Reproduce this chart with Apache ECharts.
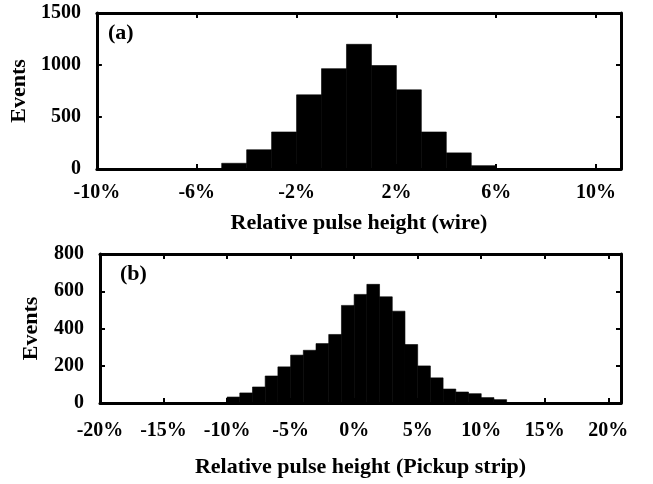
<!DOCTYPE html>
<html>
<head>
<meta charset="utf-8">
<script src="https://cdn.jsdelivr.net/npm/echarts@6/dist/echarts.min.js"></script>
<style>
  html, body { margin: 0; padding: 0; background: #fff; }
  #chart { width: 653px; height: 484px; }
</style>
</head>
<body>
<div id="chart"></div>
<script>
// (a) wire: bins of 1 %, left edges
var wireBins = [-5, -4, -3, -2, -1, 0, 1, 2, 3, 4, 5];
var wireCounts = [55, 185, 356, 713, 965, 1199, 995, 761, 356, 155, 32];
var wireTicks = [-10, -6, -2, 2, 6, 10];

// (b) pickup strip: bins of 1 %, left edges
var stripBins = [-10, -9, -8, -7, -6, -5, -4, -3, -2, -1, 0, 1, 2, 3, 4, 5, 6, 7, 8, 9, 10, 11];
var stripCounts = [32, 54, 86, 145, 194, 257, 283, 319, 368, 524, 583, 637, 570, 493, 314, 199, 135, 75, 59, 50, 29, 18];
var stripTicks = [-20, -15, -10, -5, 0, 5, 10, 15, 20];

var binWidth = 1;
var font = 'Liberation Serif';

function toData(bins, counts) {
	return bins.map(function (lo, i) {
		return [lo, lo + binWidth, counts[i]];
	});
}

function renderBar(params, api) {
	var p0 = api.coord([api.value(0), 0]);
	var p1 = api.coord([api.value(1), api.value(2)]);
	return {
		type: 'rect',
		shape: { x: p0[0], y: p1[1], width: p1[0] - p0[0], height: p0[1] - p1[1] },
		style: { fill: '#000', stroke: '#000', lineWidth: 0.6 }
	};
}

var lineStyle = { color: '#000', width: 3 };
var tickStyle = { show: true, inside: true, length: 5, lineStyle: { color: '#000', width: 2 } };
var labelStyle = { color: '#000', fontFamily: font, fontWeight: 'bold', fontSize: 20 };
var nameStyle = { color: '#000', fontFamily: font, fontWeight: 'bold', fontSize: 22 };

function xAxes(grid, min, max, ticks, name, gap, margin) {
	return [{
		type: 'value', gridIndex: grid, min: min, max: max, position: 'bottom',
		name: name, nameLocation: 'middle', nameGap: gap, nameTextStyle: nameStyle,
		axisLine: { onZero: false, lineStyle: lineStyle },
		axisTick: Object.assign({ customValues: ticks }, tickStyle),
		axisLabel: Object.assign({ customValues: ticks, margin: margin, formatter: function (v) { return v + '%'; } }, labelStyle),
		splitLine: { show: false }
	}, {
		type: 'value', gridIndex: grid, min: min, max: max, position: 'top',
		axisLine: { onZero: false, lineStyle: lineStyle },
		axisTick: Object.assign({ customValues: ticks }, tickStyle),
		axisLabel: { show: false },
		splitLine: { show: false }
	}];
}

function yAxes(grid, max, interval, gap) {
	return [{
		type: 'value', gridIndex: grid, min: 0, max: max, interval: interval, position: 'left',
		name: 'Events', nameLocation: 'middle', nameGap: gap, nameTextStyle: nameStyle,
		axisLine: { show: true, onZero: false, lineStyle: lineStyle },
		axisTick: tickStyle,
		axisLabel: Object.assign({ margin: 16, formatter: function (v) { return String(v); } }, labelStyle),
		splitLine: { show: false }
	}, {
		type: 'value', gridIndex: grid, min: 0, max: max, interval: interval, position: 'right',
		axisLine: { show: true, onZero: false, lineStyle: lineStyle },
		axisTick: tickStyle,
		axisLabel: { show: false },
		splitLine: { show: false }
	}];
}

var myChart = echarts.init(document.getElementById('chart'));

var option = {
	backgroundColor: '#fff',
	animation: false,
	grid: [
		{ left: 96, right: 32, top: 13, height: 156 },
		{ left: 100, right: 32, top: 254, height: 149 }
	],
	xAxis: xAxes(0, -10, 11, wireTicks, 'Relative pulse height (wire)', 43, 14)
		.concat(xAxes(1, -20, 21, stripTicks, 'Relative pulse height (Pickup strip)', 53, 18)),
	yAxis: yAxes(0, 1500, 500, 62).concat(yAxes(1, 800, 200, 58)),
	graphic: [
		{ type: 'text', left: 108, top: 22, style: { text: '(a)', font: 'bold 22px "Liberation Serif"', fill: '#000' } },
		{ type: 'text', left: 120, top: 263, style: { text: '(b)', font: 'bold 22px "Liberation Serif"', fill: '#000' } }
	],
	series: [{
		type: 'custom',
		xAxisIndex: 0,
		yAxisIndex: 0,
		renderItem: renderBar,
		encode: { x: [0, 1], y: 2 },
		data: toData(wireBins, wireCounts)
	}, {
		type: 'custom',
		xAxisIndex: 2,
		yAxisIndex: 2,
		renderItem: renderBar,
		encode: { x: [0, 1], y: 2 },
		data: toData(stripBins, stripCounts)
	}]
};

option && myChart.setOption(option);
</script>
</body>
</html>
